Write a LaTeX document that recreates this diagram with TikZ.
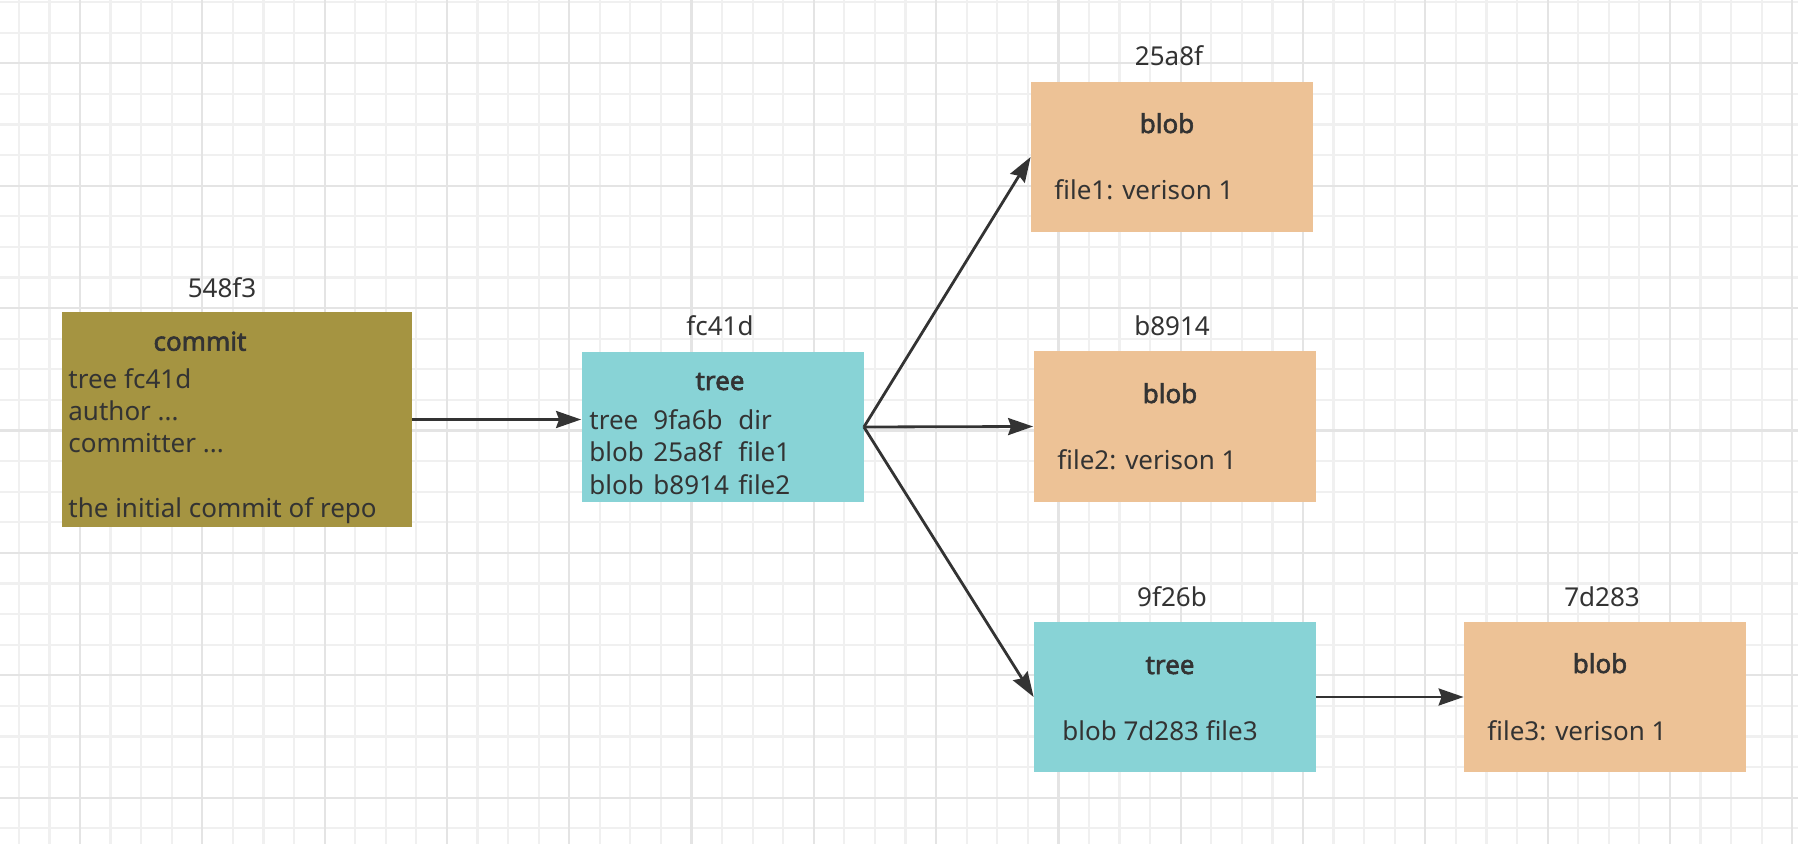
\documentclass[tikz,border=0pt]{standalone}
\usepackage{fontspec}
\setmainfont{Noto Sans}[AutoFakeBold=2.2]
\usetikzlibrary{arrows.meta}
\definecolor{txt}{HTML}{333333}
\definecolor{commitc}{RGB}{165,148,65}
\definecolor{treec}{RGB}{136,211,214}
\definecolor{blobc}{RGB}{237,194,150}
\definecolor{gridminor}{HTML}{F0F0F0}
\definecolor{gridmajor}{HTML}{E4E4E4}
\tikzset{
  box/.style={draw=none, inner sep=0pt, minimum width=141pt, minimum height=75pt},
  lbl/.style={anchor=base, inner sep=0pt, text=txt, font=\fontsize{13}{16}\selectfont},
  ttl/.style={anchor=base, inner sep=0pt, text=txt, font=\fontsize{13}{16}\selectfont\bfseries},
  body/.style={anchor=base west, inner sep=0pt, text=txt, font=\fontsize{13}{16}\selectfont},
  arr/.style={draw=txt, line width=1.4pt, -{Stealth[length=12.5pt,width=8.5pt,inset=1.5pt]}}
}
\begin{document}
\begin{tikzpicture}[x=0.5pt,y=-0.5pt]
\useasboundingbox (0,0) rectangle (1798,844);
\fill[white] (0,0) rectangle (1798,844);
% grid
\foreach \k in {-2,...,56} {
  \draw[gridminor, line width=1.1pt] ({80+30.575*\k},0) -- ({80+30.575*\k},844);
}
\foreach \k in {-2,...,25} {
  \draw[gridminor, line width=1.1pt] (0,{63.3+30.6*\k}) -- (1798,{63.3+30.6*\k});
}
\foreach \m in {0,...,14} {
  \draw[gridmajor, line width=1.1pt] ({80+122.3*\m},0) -- ({80+122.3*\m},844);
}
\foreach \m in {0,...,6} {
  \draw[gridmajor, line width=1.1pt] (0,{63.3+122.4*\m}) -- (1798,{63.3+122.4*\m});
}
% boxes
\node[box, fill=commitc, minimum width=175pt, minimum height=107.5pt] (commit) at (237,419.5) {};
\node[box, fill=treec] (tree1) at (722.5,427) {};
\node[box, fill=blobc] (blob1) at (1172,157) {};
\node[box, fill=blobc] (blob2) at (1174.5,426.5) {};
\node[box, fill=treec] (tree2) at (1175,697) {};
\node[box, fill=blobc] (blob3) at (1605,697) {};
% labels above boxes
\node[lbl] (lcommit) at (222,298) {548f3};
\node[lbl] (ltree1) at (720,336) {fc41d};
\node[lbl] (lblob1) at (1169,66) {25a8f};
\node[lbl] (lblob2) at (1172,336) {b8914};
\node[lbl] (ltree2) at (1172,606) {9f26b};
\node[lbl] (lblob3) at (1602,606) {7d283};
% commit content
\node[ttl] (tcommit) at (200,350.7) {commit};
\node[body] (c1) at (68,388.3) {tree fc41d};
\node[body] (c2) at (68,420.6) {author ...};
\node[body] (c3) at (68,452.9) {committer ...};
\node[body] (c4) at (68,517.5) {the initial commit of repo};
% tree1 content
\node[ttl] (ttree1) at (720,390) {tree};
\node[body] (t1a) at (589,429.3) {\makebox[32pt][l]{tree}\makebox[42.5pt][l]{9fa6b}dir};
\node[body] (t1b) at (589,461.7) {\makebox[32pt][l]{blob}\makebox[42.5pt][l]{25a8f}file1};
\node[body] (t1c) at (589,494.3) {\makebox[32pt][l]{blob}\makebox[42.5pt][l]{b8914}file2};
% blob1
\node[ttl] (tblob1) at (1167,133) {blob};
\node[body] (b1) at (1054,199.3) {file1: verison 1};
% blob2
\node[ttl] (tblob2) at (1170,403) {blob};
\node[body] (b2) at (1057,469.3) {file2: verison 1};
% tree2
\node[ttl] (ttree2) at (1170,674) {tree};
\node[body] (t2) at (1062,740) {blob 7d283 file3};
% blob3
\node[ttl] (tblob3) at (1600,673) {blob};
\node[body] (b3) at (1487,740) {file3: verison 1};
% arrows
\draw[arr] (commit.east) -- (commit.east -| tree1.west);
\draw[arr] (tree1.east) -- (blob1.west);
\draw[arr] (tree1.east) -- (blob2.west);
\draw[arr] (tree1.east) -- (tree2.west);
\draw[arr] (tree2.east) -- (blob3.west);
\end{tikzpicture}
\end{document}
